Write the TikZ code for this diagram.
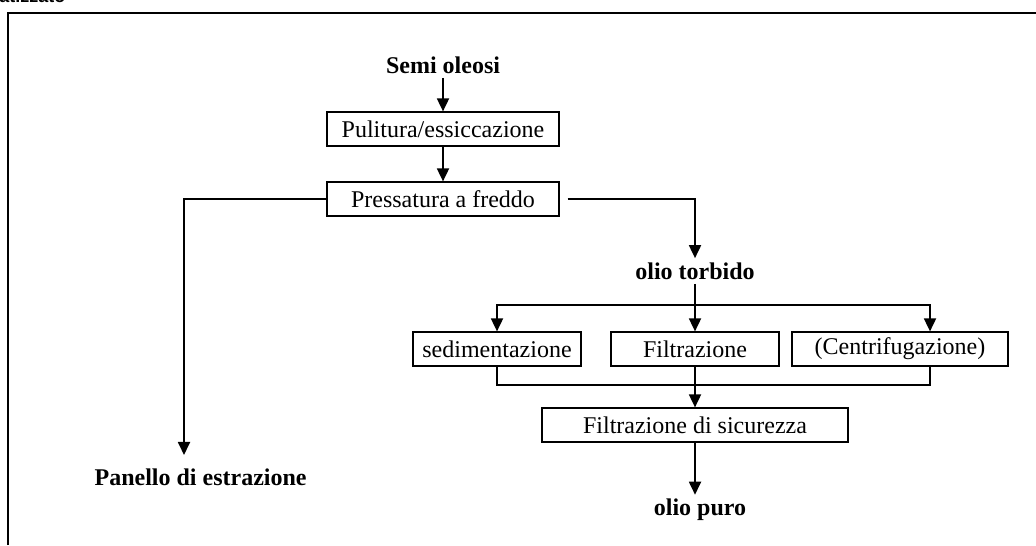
\documentclass[tikz,border=0pt]{standalone}
\usepackage{fontspec}
\setmainfont{Liberation Serif}
\newfontfamily\titlefont{Liberation Sans}
\usetikzlibrary{arrows.meta,positioning,calc}
\tikzstyle{fase} = [rectangle, draw=black, line width=0.6pt,
minimum height=17pt, inner sep=2pt, text centered]
\tikzstyle{prodotto} = [font=\fontsize{12}{14}\selectfont\bfseries, inner sep=2pt]
\tikzstyle{arrow} = [-{Triangle[length=6.5pt,width=6pt]}, line width=0.9pt]
\tikzstyle{linea} = [line width=0.9pt]

\begin{document}
\begin{tikzpicture}[
    x=0.5pt, y=0.5pt, % one unit = one pixel of the sketch
    font=\fontsize{12}{14}\selectfont,
  ]
    \useasboundingbox (0,0) rectangle (1036,545);

    % cornice
    \node[anchor=base west, inner sep=0pt, font=\titlefont\bfseries\fontsize{9}{10}\selectfont] (titolo) at (-1,542) {atizzato};
    \draw[line width=1pt] (8,0) -- (8,532) -- (1036,532);

    \node[prodotto]                         (semi)  at (443,480) {Semi oleosi};
    \node[fase, minimum width=116pt]        (pul)   at (443,416) {Pulitura/essiccazione};
    \node[fase, minimum width=116pt]        (press) at (443,346) {Pressatura a freddo};
    \node[prodotto]                         (torb)  at (695,274) {olio torbido};

    \node[fase, minimum width=84pt]         (sed)   at (497,196) {sedimentazione};
    \node[fase, minimum width=84pt]         (filt)  at (695,196) {Filtrazione};
    \node[fase, minimum width=108pt]        (centr) at (900,196) {(Centrifugazione)};
    \node[fase, minimum width=153pt]        (sic)   at (695,120) {Filtrazione di sicurezza};
    \node[prodotto]                         (puro)  at (700,35)  {olio puro};
    \node[prodotto, anchor=east]            (panello) at (311,68) {Panello di estrazione};

    \coordinate (ramo)   at (695,240);
    \coordinate (unione) at (695,160);
    \coordinate (scarto) at (184,90);

    \draw [arrow] (semi) -- (pul);
    \draw [arrow] (pul) -- (press);
    \draw [arrow] (press.west) -| (scarto);
    \draw [arrow] ([xshift=4pt]press.east) -| (torb.north);

    \draw [linea] (torb) -- (ramo);
    \draw [arrow] (ramo) -| (sed.north);
    \draw [arrow] (ramo) -- (filt);
    \draw [arrow] (ramo) -| ([xshift=15pt]centr.north);

    \draw [linea] (sed.south) |- (unione) -| ([xshift=15pt]centr.south);
    \draw [arrow] (filt) -- (sic);
    \draw [arrow] (sic.south) -- (sic.south |- puro.north);
  \end{tikzpicture}
\end{document}
